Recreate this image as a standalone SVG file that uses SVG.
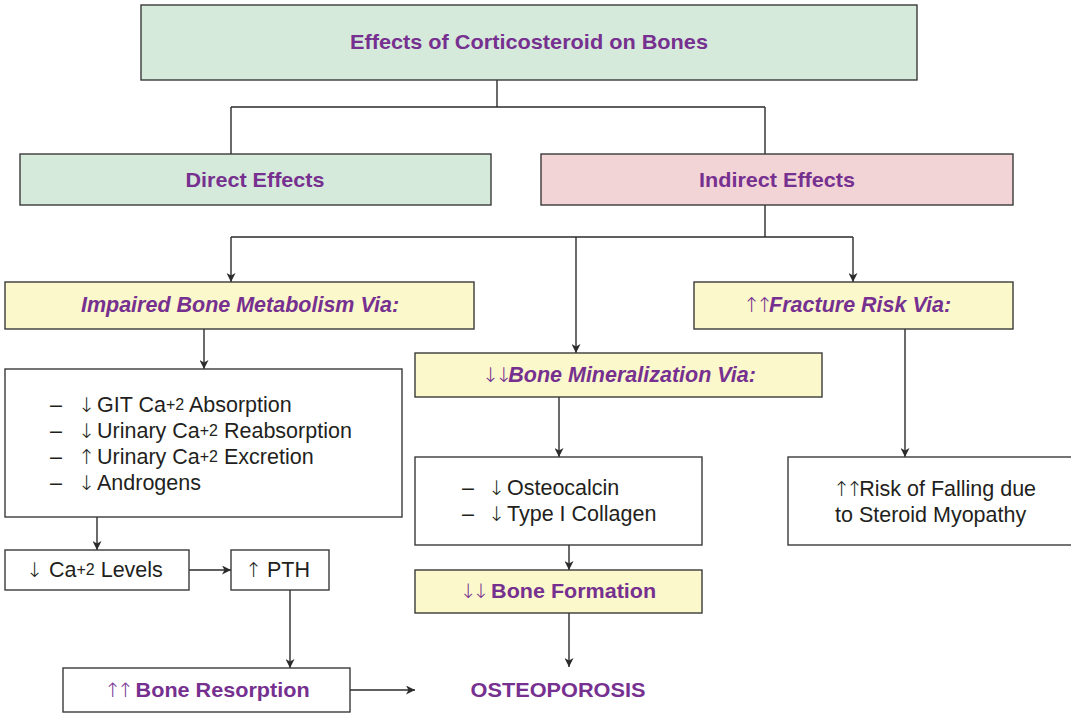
<svg xmlns="http://www.w3.org/2000/svg" width="1071" height="713" viewBox="0 0 1071 713">
  <defs>
    <marker id="arr" markerWidth="10" markerHeight="9" refX="9" refY="4.5" orient="auto" markerUnits="userSpaceOnUse">
      <path d="M0,0 L9,4.5 L0,9 L2.5,4.5 z" fill="#2b2b2b"/>
    </marker>
    <style>
      .box { stroke: #3a3a3a; stroke-width: 1.4; }
      .green { fill: #d6eadb; }
      .pink { fill: #f2d4d6; }
      .yellow { fill: #fbf8cc; }
      .white { fill: #ffffff; }
      .head { font-family: "Liberation Sans", Arial, sans-serif; font-weight: bold; fill: #76308f; font-size: 21px; text-anchor: middle; }
      .via { font-family: "Liberation Sans", Arial, sans-serif; font-weight: bold; font-style: italic; fill: #76308f; font-size: 21.5px; text-anchor: middle; }
      .arw { font-family: "DejaVu Sans ExtraLight", "DejaVu Sans", sans-serif; font-weight: 200; font-style: normal; font-size: 0.95em; }
      .body { font-family: "Liberation Sans", Arial, sans-serif; fill: #231f20; font-size: 21.5px; }
      .sup { font-size: 16px; }
      .conn { fill: none; stroke: #2b2b2b; stroke-width: 1.4; }
    </style>
  </defs>
  <rect width="1071" height="713" fill="#ffffff"/>

  <!-- connectors -->
  <g id="connectors">
    <path class="conn" d="M497,80 V107 M231,107 H765 M231,107 V154 M765,107 V154"/>
    <path class="conn" d="M765,205 V237 M231,237 H853"/>
    <path class="conn" d="M231,237 V282" marker-end="url(#arr)"/>
    <path class="conn" d="M576,237 V353" marker-end="url(#arr)"/>
    <path class="conn" d="M853,237 V282" marker-end="url(#arr)"/>
    <path class="conn" d="M204,329 V369" marker-end="url(#arr)"/>
    <path class="conn" d="M97,517 V550" marker-end="url(#arr)"/>
    <path class="conn" d="M189,570 H231" marker-end="url(#arr)"/>
    <path class="conn" d="M290,590 V668" marker-end="url(#arr)"/>
    <path class="conn" d="M350,690 H415" marker-end="url(#arr)"/>
    <path class="conn" d="M559,397 V457" marker-end="url(#arr)"/>
    <path class="conn" d="M569,545 V570" marker-end="url(#arr)"/>
    <path class="conn" d="M569,613 V667" marker-end="url(#arr)"/>
    <path class="conn" d="M905,329 V457" marker-end="url(#arr)"/>
  </g>

  <g id="title">
    <rect class="box green" x="141" y="5" width="776" height="75"/>
    <text class="head" x="529" y="49" textLength="358" lengthAdjust="spacingAndGlyphs">Effects of Corticosteroid on Bones</text>
  </g>

  <g id="direct">
    <rect class="box green" x="20" y="154" width="471" height="51"/>
    <text class="head" x="255" y="187" textLength="139" lengthAdjust="spacingAndGlyphs">Direct Effects</text>
  </g>

  <g id="indirect">
    <rect class="box pink" x="541" y="154" width="472" height="51"/>
    <text class="head" x="777" y="187" textLength="156" lengthAdjust="spacingAndGlyphs">Indirect Effects</text>
  </g>

  <g id="impaired">
    <rect class="box yellow" x="5" y="282" width="469" height="47"/>
    <text class="via" x="240" y="312">Impaired Bone Metabolism Via:</text>
  </g>

  <g id="fracture">
    <rect class="box yellow" x="694" y="282" width="319" height="47"/>
    <text class="via" x="847" y="312"><tspan class="arw" letter-spacing="-4">↑↑</tspan>Fracture Risk Via:</text>
  </g>

  <g id="mineralization">
    <rect class="box yellow" x="415" y="353" width="407" height="44"/>
    <text class="via" x="619" y="382"><tspan class="arw" letter-spacing="-4">↓↓</tspan>Bone Mineralization Via:</text>
  </g>

  <g id="calcium-list">
    <rect class="box white" x="5" y="369" width="397" height="148"/>
    <text class="body"><tspan x="50" y="412">–</tspan><tspan class="arw" x="78" y="412">↓</tspan><tspan x="97" y="412">GIT Ca</tspan><tspan class="sup" dy="-2">+2</tspan><tspan dy="2"> Absorption</tspan></text>
    <text class="body"><tspan x="50" y="438">–</tspan><tspan class="arw" x="78" y="438">↓</tspan><tspan x="97" y="438">Urinary Ca</tspan><tspan class="sup" dy="-2">+2</tspan><tspan dy="2"> Reabsorption</tspan></text>
    <text class="body"><tspan x="50" y="464">–</tspan><tspan class="arw" x="78" y="464">↑</tspan><tspan x="97" y="464">Urinary Ca</tspan><tspan class="sup" dy="-2">+2</tspan><tspan dy="2"> Excretion</tspan></text>
    <text class="body"><tspan x="50" y="490">–</tspan><tspan class="arw" x="78" y="490">↓</tspan><tspan x="97" y="490">Androgens</tspan></text>
  </g>

  <g id="ca-levels">
    <rect class="box white" x="5" y="550" width="184" height="40"/>
    <text class="body" y="577"><tspan class="arw" x="26">↓</tspan><tspan x="49">Ca</tspan><tspan class="sup" dy="-2">+2</tspan><tspan dy="2"> Levels</tspan></text>
  </g>

  <g id="pth">
    <rect class="box white" x="231" y="550" width="98" height="40"/>
    <text class="body" y="577"><tspan class="arw" x="245">↑</tspan><tspan x="267">PTH</tspan></text>
  </g>

  <g id="resorption">
    <rect class="box white" x="63" y="668" width="287" height="44"/>
    <text class="head" x="207" y="697"><tspan class="arw" letter-spacing="-4">↑↑</tspan> <tspan textLength="174" lengthAdjust="spacingAndGlyphs">Bone Resorption</tspan></text>
  </g>

  <g id="matrix-list">
    <rect class="box white" x="415" y="457" width="287" height="88"/>
    <text class="body"><tspan x="462" y="495">–</tspan><tspan class="arw" x="488" y="495">↓</tspan><tspan x="507" y="495">Osteocalcin</tspan></text>
    <text class="body"><tspan x="462" y="521">–</tspan><tspan class="arw" x="488" y="521">↓</tspan><tspan x="507" y="521">Type I Collagen</tspan></text>
  </g>

  <g id="formation">
    <rect class="box yellow" x="415" y="570" width="287" height="43"/>
    <text class="head" x="558" y="598"><tspan class="arw" letter-spacing="-4">↓↓</tspan> <tspan textLength="165" lengthAdjust="spacingAndGlyphs">Bone Formation</tspan></text>
  </g>

  <g id="falling">
    <rect class="box white" x="788" y="457" width="290" height="88"/>
    <text class="body"><tspan x="833" y="496"><tspan class="arw" letter-spacing="-4">↑↑</tspan>Risk of Falling due</tspan><tspan x="835" y="522">to Steroid Myopathy</tspan></text>
  </g>

  <g id="osteoporosis">
    <text class="head" x="558" y="697" textLength="175" lengthAdjust="spacingAndGlyphs">OSTEOPOROSIS</text>
  </g>
</svg>
